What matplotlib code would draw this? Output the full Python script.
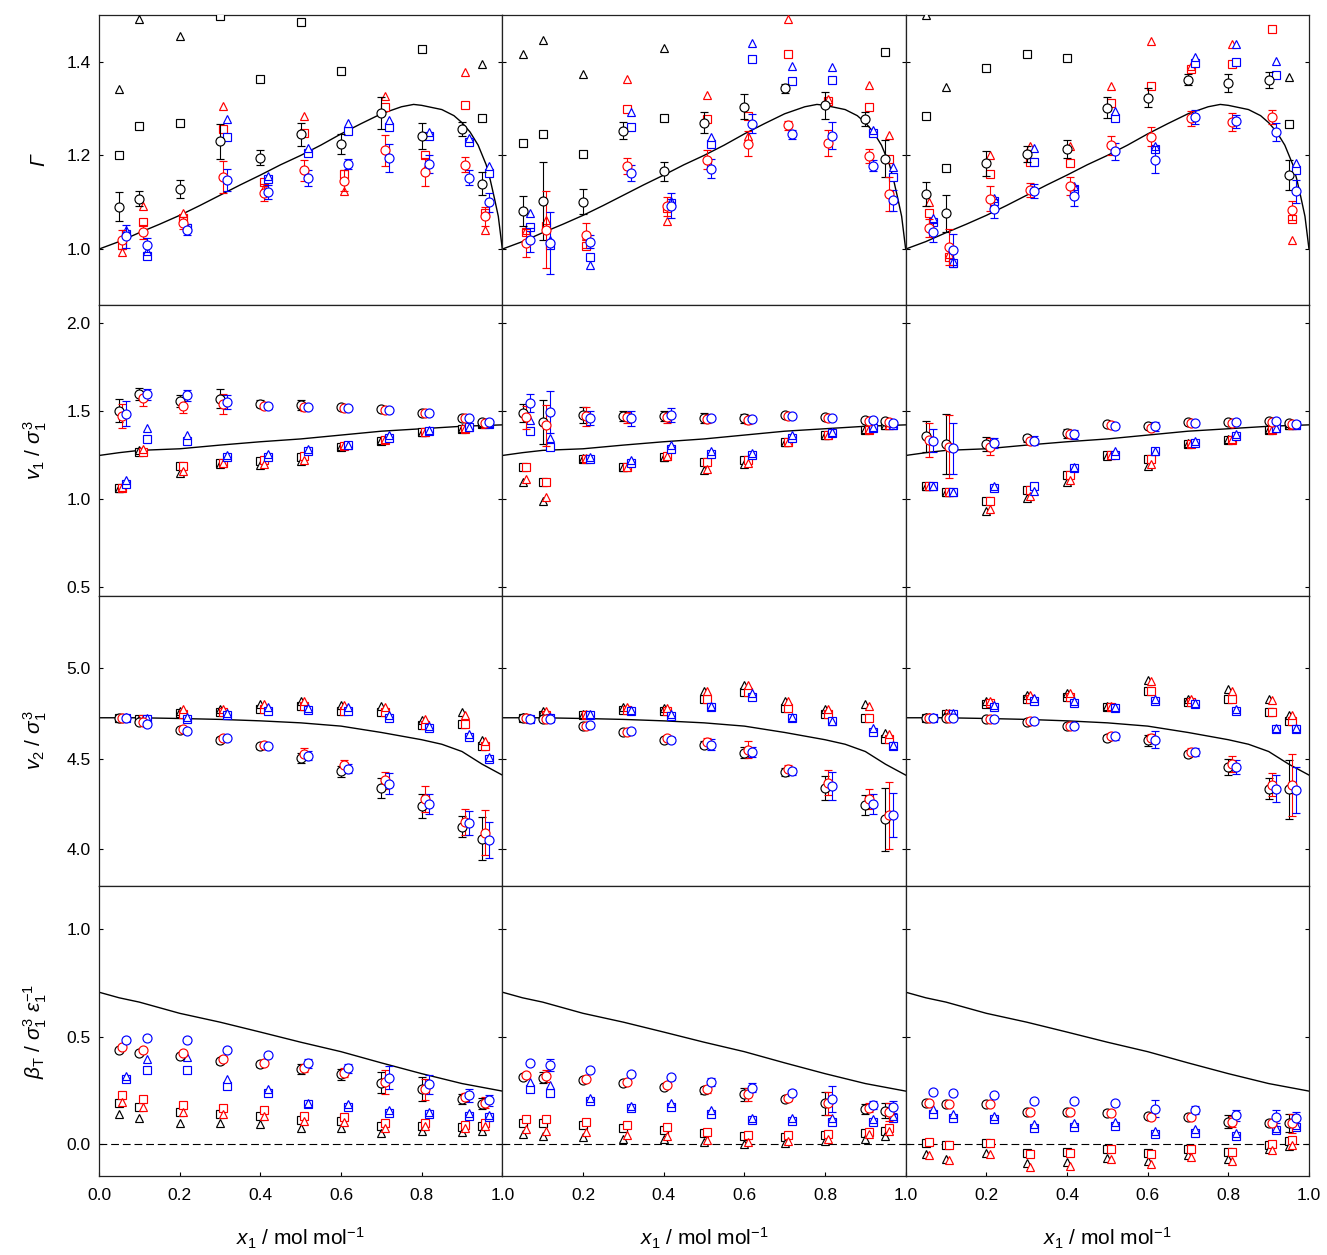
import numpy as np
import matplotlib
matplotlib.use("Agg")
import matplotlib.pyplot as plt

N = np.nan

# mole fractions of the simulated state points
X = [0.05, 0.1, 0.2, 0.3, 0.4, 0.5, 0.6, 0.7, 0.8, 0.9, 0.95]

# ---- Gamma, column 1 ----
G1_K_O = [1.090, 1.108, 1.128, 1.230, 1.195, 1.245, 1.225, 1.290, 1.242, 1.257, 1.140]
G1_K_E = [0.031, 0.015, 0.019, 0.037, 0.016, 0.025, 0.021, 0.034, 0.028, 0.015, 0.024]
G1_K_S = [1.201, 1.262, 1.270, 1.498, 1.364, 1.485, 1.381, N, 1.427, N, 1.279]
G1_K_T = [1.342, 1.491, 1.455, N, N, N, N, N, N, N, 1.396]
G1_R_O = [1.020, 1.036, 1.056, 1.154, 1.120, 1.168, 1.146, 1.211, 1.165, 1.180, 1.070]
G1_R_E = [0.020, 0.015, 0.013, 0.035, 0.018, 0.023, 0.022, 0.033, 0.030, 0.016, 0.020]
G1_R_S = [1.009, 1.057, 1.066, 1.257, 1.143, 1.247, 1.161, 1.303, 1.200, 1.308, 1.077]
G1_R_T = [0.993, 1.093, 1.076, 1.305, 1.130, 1.284, 1.123, 1.327, 1.170, 1.378, 1.040]
G1_B_O = [1.027, 1.009, 1.041, 1.148, 1.121, 1.152, 1.182, 1.195, 1.182, 1.152, 1.100]
G1_B_E = [0.025, 0.015, 0.012, 0.023, 0.015, 0.017, 0.011, 0.030, 0.020, 0.016, 0.020]
G1_B_S = [1.033, 0.986, 1.045, 1.239, 1.150, 1.205, 1.252, 1.260, 1.241, 1.228, 1.163]
G1_B_T = [1.040, 0.995, 1.048, 1.277, 1.157, 1.216, 1.270, 1.275, 1.250, 1.237, 1.177]

# ---- Gamma, column 2 ----
G2_K_O = [1.081, 1.103, 1.101, 1.253, 1.166, 1.270, 1.304, 1.343, 1.307, 1.277, 1.193]
G2_K_E = [0.032, 0.084, 0.027, 0.018, 0.021, 0.022, 0.027, 0.010, 0.029, 0.015, 0.039]
G2_K_S = [1.227, 1.245, 1.204, N, 1.281, N, N, N, N, N, 1.421]
G2_K_T = [1.416, 1.446, 1.373, N, 1.430, N, N, N, N, N, N]
G2_R_O = [1.013, 1.041, 1.029, 1.177, 1.091, 1.191, 1.225, 1.264, 1.227, 1.198, 1.118]
G2_R_E = [0.030, 0.082, 0.026, 0.017, 0.020, 0.021, 0.027, 0.009, 0.028, 0.015, 0.037]
G2_R_S = [1.036, 1.050, 1.007, 1.300, 1.087, 1.277, 1.284, 1.417, 1.317, 1.304, 1.193]
G2_R_T = [1.040, 1.063, 1.027, 1.364, 1.059, 1.329, 1.241, 1.492, 1.320, 1.350, 1.243]
G2_B_O = [1.019, 1.013, 1.016, 1.163, 1.093, 1.172, 1.268, 1.245, 1.242, 1.178, 1.104]
G2_B_E = [0.025, 0.066, 0.013, 0.017, 0.027, 0.021, 0.020, 0.010, 0.029, 0.012, 0.023]
G2_B_S = [1.048, 1.009, 0.983, 1.260, 1.098, 1.225, 1.406, 1.360, 1.361, 1.248, 1.153]
G2_B_T = [1.078, 1.020, 0.966, 1.293, 1.102, 1.239, 1.441, 1.392, 1.389, 1.254, 1.175]

# ---- Gamma, column 3 ----
G3_K_O = [1.118, 1.076, 1.183, 1.203, 1.214, 1.302, 1.323, 1.362, 1.355, 1.362, 1.158]
G3_K_E = [0.025, 0.039, 0.027, 0.017, 0.020, 0.022, 0.020, 0.012, 0.019, 0.017, 0.032]
G3_K_S = [1.284, 1.173, 1.386, 1.416, 1.408, N, N, N, N, N, 1.267]
G3_K_T = [1.499, 1.347, N, N, N, N, N, N, N, N, 1.368]
G3_R_O = [1.045, 1.004, 1.108, 1.127, 1.135, 1.222, 1.240, 1.279, 1.272, 1.282, 1.083]
G3_R_E = [0.020, 0.039, 0.027, 0.015, 0.020, 0.020, 0.020, 0.016, 0.019, 0.015, 0.020]
G3_R_S = [1.078, 0.984, 1.161, 1.185, 1.183, 1.313, 1.349, 1.385, 1.396, 1.471, 1.065]
G3_R_T = [1.101, 0.990, 1.201, 1.220, 1.220, 1.349, 1.444, 1.390, 1.437, N, 1.020]
G3_B_O = [1.036, 0.997, 1.086, 1.125, 1.113, 1.209, 1.191, 1.282, 1.273, 1.250, 1.123]
G3_B_E = [0.020, 0.036, 0.020, 0.015, 0.021, 0.018, 0.029, 0.015, 0.014, 0.020, 0.024]
G3_B_S = [1.058, 0.970, 1.102, 1.185, 1.128, 1.280, 1.214, 1.398, 1.399, 1.372, 1.168]
G3_B_T = [1.066, 0.975, 1.110, 1.216, 1.135, 1.294, 1.220, 1.410, 1.439, 1.401, 1.183]

# ---- v1, column 1 ----
V1_1_K_O = [1.500, 1.595, 1.557, 1.568, 1.540, 1.534, 1.521, 1.511, 1.490, 1.458, 1.436]
V1_1_K_E = [0.066, 0.036, 0.033, 0.054, 0.020, 0.028, 0.012, 0.010, 0.010, 0.008, 0.010]
V1_1_K_S = [1.061, 1.263, 1.188, 1.203, 1.212, 1.240, 1.297, 1.330, 1.377, 1.396, 1.424]
V1_1_K_T = [1.061, 1.275, 1.146, 1.200, 1.193, 1.216, 1.300, 1.335, 1.380, 1.400, 1.428]
V1_1_R_O = [1.468, 1.572, 1.525, 1.538, 1.528, 1.519, 1.515, 1.506, 1.487, 1.458, 1.430]
V1_1_R_E = [0.068, 0.043, 0.040, 0.057, 0.020, 0.020, 0.010, 0.010, 0.010, 0.010, 0.010]
V1_1_R_S = [1.061, 1.263, 1.188, 1.206, 1.218, 1.244, 1.301, 1.335, 1.377, 1.396, 1.424]
V1_1_R_T = [1.065, 1.282, 1.155, 1.203, 1.197, 1.222, 1.303, 1.338, 1.380, 1.400, 1.428]
V1_1_B_O = [1.483, 1.595, 1.587, 1.549, 1.525, 1.519, 1.515, 1.502, 1.487, 1.458, 1.436]
V1_1_B_E = [0.070, 0.031, 0.030, 0.038, 0.012, 0.010, 0.008, 0.008, 0.008, 0.008, 0.008]
V1_1_B_S = [1.085, 1.339, 1.326, 1.235, 1.240, 1.269, 1.303, 1.348, 1.383, 1.407, 1.424]
V1_1_B_T = [1.108, 1.405, 1.364, 1.250, 1.256, 1.284, 1.305, 1.360, 1.390, 1.410, 1.430]

# ---- v1, column 2 ----
V1_2_K_O = [1.487, 1.436, 1.477, 1.468, 1.468, 1.458, 1.458, 1.477, 1.464, 1.445, 1.440]
V1_2_K_E = [0.050, 0.126, 0.047, 0.028, 0.028, 0.028, 0.025, 0.010, 0.010, 0.010, 0.010]
V1_2_K_S = [1.178, 1.093, 1.225, 1.180, 1.237, 1.208, 1.222, 1.322, 1.360, 1.392, 1.417]
V1_2_K_T = [1.098, 0.985, 1.230, 1.180, 1.240, 1.165, 1.200, 1.325, 1.362, 1.395, 1.420]
V1_2_R_O = [1.462, 1.417, 1.468, 1.462, 1.462, 1.455, 1.449, 1.472, 1.458, 1.443, 1.436]
V1_2_R_E = [0.066, 0.116, 0.055, 0.030, 0.030, 0.025, 0.025, 0.010, 0.010, 0.010, 0.010]
V1_2_R_S = [1.180, 1.095, 1.225, 1.180, 1.241, 1.208, 1.222, 1.322, 1.360, 1.392, 1.417]
V1_2_R_T = [1.114, 1.008, 1.232, 1.182, 1.243, 1.170, 1.206, 1.325, 1.362, 1.395, 1.420]
V1_2_B_O = [1.544, 1.492, 1.458, 1.458, 1.477, 1.458, 1.455, 1.473, 1.458, 1.445, 1.430]
V1_2_B_E = [0.051, 0.118, 0.040, 0.042, 0.040, 0.010, 0.010, 0.008, 0.008, 0.008, 0.008]
V1_2_B_S = [1.383, 1.297, 1.227, 1.203, 1.282, 1.254, 1.250, 1.348, 1.373, 1.405, 1.417]
V1_2_B_T = [1.449, 1.345, 1.240, 1.222, 1.307, 1.270, 1.260, 1.364, 1.380, 1.410, 1.420]

# ---- v1, column 3 ----
V1_3_K_O = [1.354, 1.311, 1.311, 1.345, 1.373, 1.424, 1.411, 1.436, 1.436, 1.440, 1.430]
V1_3_K_E = [0.087, 0.172, 0.038, 0.020, 0.026, 0.012, 0.010, 0.008, 0.008, 0.008, 0.008]
V1_3_K_S = [1.070, 1.038, 0.990, 1.051, 1.133, 1.250, 1.227, 1.311, 1.335, 1.392, 1.417]
V1_3_K_T = [1.070, 1.040, 0.932, 1.004, 1.098, 1.245, 1.189, 1.315, 1.340, 1.395, 1.420]
V1_3_R_O = [1.335, 1.297, 1.297, 1.330, 1.367, 1.417, 1.405, 1.430, 1.430, 1.436, 1.424]
V1_3_R_E = [0.097, 0.180, 0.050, 0.020, 0.020, 0.010, 0.010, 0.008, 0.008, 0.008, 0.008]
V1_3_R_S = [1.070, 1.038, 0.990, 1.051, 1.133, 1.250, 1.227, 1.311, 1.335, 1.392, 1.417]
V1_3_R_T = [1.072, 1.040, 0.943, 1.013, 1.108, 1.248, 1.197, 1.315, 1.340, 1.395, 1.420]
V1_3_B_O = [1.330, 1.288, 1.316, 1.330, 1.367, 1.411, 1.411, 1.430, 1.436, 1.440, 1.424]
V1_3_B_E = [0.066, 0.145, 0.028, 0.026, 0.025, 0.010, 0.028, 0.008, 0.008, 0.008, 0.008]
V1_3_B_S = [1.070, 1.038, 1.061, 1.070, 1.174, 1.250, 1.269, 1.316, 1.358, 1.402, 1.417]
V1_3_B_T = [1.072, 1.040, 1.070, 1.045, 1.180, 1.270, 1.272, 1.330, 1.370, 1.405, 1.420]

# ---- v2, column 1 ----
V2_1_K_O = [4.726, 4.700, 4.660, 4.606, 4.568, 4.504, 4.430, 4.339, 4.238, 4.124, 4.060]
V2_1_K_E = [0.010, 0.010, 0.010, 0.012, 0.012, 0.030, 0.032, 0.057, 0.066, 0.058, 0.117]
V2_1_K_S = [4.726, 4.717, 4.753, 4.757, 4.775, 4.790, 4.766, 4.757, 4.687, 4.690, 4.568]
V2_1_K_T = [4.726, 4.720, 4.766, 4.775, 4.803, 4.821, 4.794, 4.790, 4.711, 4.757, 4.606]
V2_1_R_O = [4.726, 4.700, 4.665, 4.614, 4.577, 4.528, 4.463, 4.381, 4.280, 4.151, 4.093]
V2_1_R_E = [0.010, 0.012, 0.010, 0.012, 0.012, 0.030, 0.028, 0.048, 0.072, 0.072, 0.124]
V2_1_R_S = [4.726, 4.717, 4.748, 4.757, 4.775, 4.790, 4.766, 4.757, 4.687, 4.690, 4.568]
V2_1_R_T = [4.726, 4.720, 4.772, 4.775, 4.803, 4.821, 4.794, 4.784, 4.717, 4.742, 4.597]
V2_1_B_O = [4.726, 4.693, 4.652, 4.614, 4.573, 4.518, 4.445, 4.362, 4.252, 4.146, 4.054]
V2_1_B_E = [0.010, 0.012, 0.010, 0.010, 0.010, 0.025, 0.025, 0.058, 0.055, 0.064, 0.100]
V2_1_B_S = [4.726, 4.720, 4.717, 4.744, 4.762, 4.770, 4.766, 4.726, 4.671, 4.619, 4.500]
V2_1_B_T = [4.728, 4.722, 4.730, 4.750, 4.784, 4.780, 4.788, 4.744, 4.680, 4.638, 4.510]

# ---- v2, column 2 ----
V2_2_K_O = [4.726, 4.720, 4.680, 4.647, 4.606, 4.577, 4.533, 4.427, 4.339, 4.247, 4.166]
V2_2_K_E = [0.010, 0.010, 0.010, 0.010, 0.010, 0.020, 0.030, 0.020, 0.066, 0.055, 0.174]
V2_2_K_S = [4.726, 4.742, 4.742, 4.770, 4.762, 4.830, 4.867, 4.781, 4.748, 4.726, 4.610]
V2_2_K_T = [4.730, 4.766, 4.745, 4.784, 4.779, 4.872, 4.907, 4.821, 4.772, 4.803, 4.641]
V2_2_R_O = [4.726, 4.720, 4.683, 4.650, 4.614, 4.592, 4.551, 4.445, 4.368, 4.276, 4.188]
V2_2_R_E = [0.010, 0.015, 0.010, 0.010, 0.012, 0.020, 0.045, 0.020, 0.070, 0.055, 0.185]
V2_2_R_S = [4.726, 4.742, 4.742, 4.770, 4.762, 4.830, 4.867, 4.781, 4.748, 4.726, 4.610]
V2_2_R_T = [4.730, 4.766, 4.745, 4.784, 4.779, 4.872, 4.907, 4.821, 4.772, 4.790, 4.638]
V2_2_B_O = [4.717, 4.717, 4.687, 4.652, 4.606, 4.577, 4.537, 4.430, 4.350, 4.252, 4.188]
V2_2_B_E = [0.010, 0.012, 0.010, 0.010, 0.015, 0.030, 0.030, 0.020, 0.078, 0.055, 0.121]
V2_2_B_S = [4.720, 4.726, 4.742, 4.762, 4.735, 4.784, 4.840, 4.726, 4.706, 4.650, 4.568]
V2_2_B_T = [4.722, 4.730, 4.745, 4.768, 4.745, 4.790, 4.861, 4.730, 4.710, 4.669, 4.575]

# ---- v2, column 3 ----
V2_3_K_O = [4.726, 4.726, 4.720, 4.702, 4.680, 4.614, 4.601, 4.524, 4.454, 4.335, 4.331]
V2_3_K_E = [0.010, 0.010, 0.010, 0.010, 0.010, 0.015, 0.031, 0.015, 0.044, 0.057, 0.163]
V2_3_K_S = [4.726, 4.748, 4.803, 4.830, 4.839, 4.784, 4.876, 4.812, 4.827, 4.757, 4.706]
V2_3_K_T = [4.728, 4.752, 4.821, 4.849, 4.861, 4.790, 4.935, 4.827, 4.882, 4.830, 4.739]
V2_3_R_O = [4.726, 4.726, 4.720, 4.706, 4.683, 4.624, 4.614, 4.537, 4.472, 4.357, 4.357]
V2_3_R_E = [0.010, 0.010, 0.010, 0.010, 0.010, 0.020, 0.025, 0.020, 0.043, 0.064, 0.172]
V2_3_R_S = [4.726, 4.748, 4.808, 4.830, 4.839, 4.784, 4.876, 4.812, 4.827, 4.757, 4.706]
V2_3_R_T = [4.728, 4.752, 4.821, 4.852, 4.861, 4.790, 4.926, 4.827, 4.876, 4.825, 4.739]
V2_3_B_O = [4.726, 4.726, 4.720, 4.706, 4.680, 4.624, 4.605, 4.537, 4.454, 4.335, 4.326]
V2_3_B_E = [0.010, 0.010, 0.010, 0.010, 0.010, 0.020, 0.046, 0.020, 0.037, 0.073, 0.126]
V2_3_B_S = [4.726, 4.748, 4.784, 4.821, 4.808, 4.781, 4.816, 4.803, 4.762, 4.665, 4.665]
V2_3_B_T = [4.728, 4.752, 4.797, 4.834, 4.821, 4.785, 4.830, 4.808, 4.775, 4.670, 4.670]

# ---- beta_T, column 1 ----
BT1_K_O = [0.437, 0.425, 0.410, 0.386, 0.371, 0.351, 0.325, 0.286, 0.258, 0.209, 0.189]
BT1_K_E = [0.010, 0.010, 0.010, 0.012, 0.010, 0.023, 0.025, 0.050, 0.056, 0.023, 0.027]
BT1_K_S = [0.193, 0.175, 0.151, 0.142, 0.131, 0.113, 0.108, 0.085, 0.085, 0.082, 0.085]
BT1_K_T = [0.139, 0.124, 0.100, 0.100, 0.096, 0.074, 0.077, 0.054, 0.062, 0.057, 0.062]
BT1_R_O = [0.453, 0.437, 0.422, 0.397, 0.379, 0.355, 0.332, 0.289, 0.255, 0.219, 0.193]
BT1_R_E = [0.010, 0.010, 0.010, 0.012, 0.010, 0.020, 0.020, 0.054, 0.050, 0.020, 0.025]
BT1_R_S = [0.229, 0.209, 0.182, 0.170, 0.158, 0.131, 0.128, 0.097, 0.097, 0.088, 0.097]
BT1_R_T = [0.196, 0.175, 0.150, 0.142, 0.131, 0.108, 0.105, 0.077, 0.085, 0.077, 0.085]
BT1_B_O = [0.484, 0.495, 0.484, 0.437, 0.413, 0.376, 0.352, 0.309, 0.278, 0.227, 0.204]
BT1_B_E = [0.008, 0.008, 0.008, 0.008, 0.010, 0.020, 0.020, 0.054, 0.046, 0.032, 0.027]
BT1_B_S = [0.304, 0.345, 0.345, 0.270, 0.236, 0.185, 0.175, 0.147, 0.142, 0.131, 0.128]
BT1_B_T = [0.317, 0.394, 0.406, 0.301, 0.255, 0.193, 0.185, 0.159, 0.151, 0.144, 0.134]

# ---- beta_T, column 2 ----
BT2_K_O = [0.312, 0.309, 0.298, 0.283, 0.267, 0.250, 0.232, 0.209, 0.190, 0.162, 0.155]
BT2_K_E = [0.008, 0.025, 0.008, 0.010, 0.010, 0.015, 0.030, 0.010, 0.052, 0.023, 0.035]
BT2_K_S = [0.100, 0.100, 0.088, 0.077, 0.065, 0.051, 0.039, 0.036, 0.042, 0.051, 0.062]
BT2_K_T = [0.046, 0.039, 0.036, 0.023, 0.023, 0.011, 0.000, 0.005, 0.015, 0.023, 0.039]
BT2_R_O = [0.321, 0.317, 0.304, 0.291, 0.274, 0.255, 0.232, 0.213, 0.190, 0.170, 0.150]
BT2_R_E = [0.008, 0.028, 0.008, 0.010, 0.010, 0.015, 0.030, 0.010, 0.054, 0.020, 0.040]
BT2_R_S = [0.119, 0.116, 0.104, 0.088, 0.082, 0.057, 0.042, 0.042, 0.046, 0.057, 0.077]
BT2_R_T = [0.070, 0.062, 0.057, 0.042, 0.039, 0.020, 0.011, 0.015, 0.023, 0.046, 0.062]
BT2_B_O = [0.379, 0.368, 0.345, 0.325, 0.312, 0.289, 0.263, 0.240, 0.212, 0.182, 0.173]
BT2_B_E = [0.008, 0.027, 0.008, 0.010, 0.012, 0.020, 0.022, 0.010, 0.060, 0.020, 0.027]
BT2_B_S = [0.255, 0.240, 0.201, 0.170, 0.175, 0.142, 0.111, 0.108, 0.104, 0.104, 0.121]
BT2_B_T = [0.289, 0.274, 0.216, 0.178, 0.193, 0.159, 0.124, 0.124, 0.121, 0.116, 0.131]

# ---- beta_T, column 3 ----
BT3_K_O = [0.190, 0.185, 0.185, 0.151, 0.151, 0.147, 0.131, 0.128, 0.105, 0.100, 0.097]
BT3_K_E = [0.008, 0.008, 0.008, 0.008, 0.008, 0.010, 0.010, 0.010, 0.030, 0.015, 0.042]
BT3_K_S = [0.008, -0.005, 0.005, -0.039, -0.036, -0.023, -0.039, -0.023, -0.034, -0.005, 0.015]
BT3_K_T = [-0.046, -0.066, -0.042, -0.088, -0.082, -0.062, -0.077, -0.051, -0.066, -0.023, -0.008]
BT3_R_O = [0.190, 0.185, 0.189, 0.151, 0.151, 0.147, 0.128, 0.128, 0.105, 0.100, 0.097]
BT3_R_E = [0.008, 0.008, 0.008, 0.008, 0.008, 0.010, 0.010, 0.010, 0.025, 0.015, 0.045]
BT3_R_S = [0.011, -0.005, 0.008, -0.043, -0.039, -0.023, -0.043, -0.023, -0.036, 0.003, 0.020]
BT3_R_T = [-0.051, -0.073, -0.046, -0.104, -0.100, -0.070, -0.090, -0.057, -0.077, -0.028, -0.005]
BT3_B_O = [0.244, 0.236, 0.229, 0.201, 0.201, 0.193, 0.165, 0.159, 0.134, 0.128, 0.124]
BT3_B_E = [0.006, 0.006, 0.006, 0.006, 0.006, 0.010, 0.040, 0.020, 0.025, 0.030, 0.026]
BT3_B_S = [0.142, 0.121, 0.116, 0.077, 0.082, 0.085, 0.046, 0.054, 0.039, 0.065, 0.080]
BT3_B_T = [0.165, 0.139, 0.131, 0.093, 0.100, 0.104, 0.062, 0.070, 0.054, 0.077, 0.088]

# ---- reference model curves (same in every column) ----
GAM_CURVE_X = [0.0, 0.05, 0.1, 0.15, 0.2, 0.25, 0.3, 0.35, 0.4, 0.45, 0.5, 0.55, 0.6,
               0.65, 0.7, 0.75, 0.78, 0.8, 0.85, 0.88, 0.9, 0.92, 0.94, 0.96, 0.97,
               0.98, 0.99, 1.0]
GAM_CURVE_Y = [1.000, 1.016, 1.035, 1.053, 1.072, 1.093, 1.115, 1.137, 1.158, 1.180,
               1.200, 1.222, 1.246, 1.268, 1.289, 1.304, 1.309, 1.307, 1.298, 1.285,
               1.270, 1.250, 1.222, 1.180, 1.148, 1.110, 1.070, 1.000]
V1_CURVE_X = [0.0, 0.05, 0.1, 0.2, 0.3, 0.4, 0.5, 0.6, 0.7, 0.8, 0.9, 1.0]
V1_CURVE_Y = [1.246, 1.262, 1.275, 1.284, 1.305, 1.324, 1.340, 1.362, 1.384, 1.398, 1.412, 1.420]
V2_CURVE_X = [0.0, 0.1, 0.2, 0.3, 0.4, 0.5, 0.6, 0.7, 0.75, 0.8, 0.85, 0.9, 0.95, 1.0]
V2_CURVE_Y = [4.726, 4.726, 4.722, 4.717, 4.709, 4.698, 4.680, 4.645, 4.625, 4.605,
              4.580, 4.540, 4.470, 4.410]
BT_CURVE_X = [0.0, 0.05, 0.1, 0.2, 0.3, 0.4, 0.5, 0.6, 0.7, 0.8, 0.9, 1.0]
BT_CURVE_Y = [0.706, 0.680, 0.660, 0.608, 0.567, 0.521, 0.474, 0.430, 0.378, 0.328, 0.282, 0.247]

ROW_LABELS = [
    "Γ",
    r"$v_1$ / $\sigma_1^3$",
    r"$v_2$ / $\sigma_1^3$",
    r"$\beta_\mathrm{T}$ / $\sigma_1^3$ $\varepsilon_1^{-1}$",
]
X_LABEL = r"$x_1$ / mol mol$^{-1}$"
YLIMS = [(0.88, 1.50), (0.45, 2.10), (3.80, 5.40), (-0.147, 1.20)]
YTICKS = [[1.0, 1.2, 1.4], [0.5, 1.0, 1.5, 2.0], [4.0, 4.5, 5.0], [0.0, 0.5, 1.0]]
XTICKS = [0.0, 0.2, 0.4, 0.6, 0.8, 1.0]

COLORS = {"k": "#000000", "r": "#ff0000", "b": "#0000ff"}
SHIFT = {"k": 0.0, "r": 0.008, "b": 0.018}

PANELS = [
    [
        {"k": (G1_K_O, G1_K_E, G1_K_S, G1_K_T), "r": (G1_R_O, G1_R_E, G1_R_S, G1_R_T), "b": (G1_B_O, G1_B_E, G1_B_S, G1_B_T)},
        {"k": (G2_K_O, G2_K_E, G2_K_S, G2_K_T), "r": (G2_R_O, G2_R_E, G2_R_S, G2_R_T), "b": (G2_B_O, G2_B_E, G2_B_S, G2_B_T)},
        {"k": (G3_K_O, G3_K_E, G3_K_S, G3_K_T), "r": (G3_R_O, G3_R_E, G3_R_S, G3_R_T), "b": (G3_B_O, G3_B_E, G3_B_S, G3_B_T)},
    ],
    [
        {"k": (V1_1_K_O, V1_1_K_E, V1_1_K_S, V1_1_K_T), "r": (V1_1_R_O, V1_1_R_E, V1_1_R_S, V1_1_R_T), "b": (V1_1_B_O, V1_1_B_E, V1_1_B_S, V1_1_B_T)},
        {"k": (V1_2_K_O, V1_2_K_E, V1_2_K_S, V1_2_K_T), "r": (V1_2_R_O, V1_2_R_E, V1_2_R_S, V1_2_R_T), "b": (V1_2_B_O, V1_2_B_E, V1_2_B_S, V1_2_B_T)},
        {"k": (V1_3_K_O, V1_3_K_E, V1_3_K_S, V1_3_K_T), "r": (V1_3_R_O, V1_3_R_E, V1_3_R_S, V1_3_R_T), "b": (V1_3_B_O, V1_3_B_E, V1_3_B_S, V1_3_B_T)},
    ],
    [
        {"k": (V2_1_K_O, V2_1_K_E, V2_1_K_S, V2_1_K_T), "r": (V2_1_R_O, V2_1_R_E, V2_1_R_S, V2_1_R_T), "b": (V2_1_B_O, V2_1_B_E, V2_1_B_S, V2_1_B_T)},
        {"k": (V2_2_K_O, V2_2_K_E, V2_2_K_S, V2_2_K_T), "r": (V2_2_R_O, V2_2_R_E, V2_2_R_S, V2_2_R_T), "b": (V2_2_B_O, V2_2_B_E, V2_2_B_S, V2_2_B_T)},
        {"k": (V2_3_K_O, V2_3_K_E, V2_3_K_S, V2_3_K_T), "r": (V2_3_R_O, V2_3_R_E, V2_3_R_S, V2_3_R_T), "b": (V2_3_B_O, V2_3_B_E, V2_3_B_S, V2_3_B_T)},
    ],
    [
        {"k": (BT1_K_O, BT1_K_E, BT1_K_S, BT1_K_T), "r": (BT1_R_O, BT1_R_E, BT1_R_S, BT1_R_T), "b": (BT1_B_O, BT1_B_E, BT1_B_S, BT1_B_T)},
        {"k": (BT2_K_O, BT2_K_E, BT2_K_S, BT2_K_T), "r": (BT2_R_O, BT2_R_E, BT2_R_S, BT2_R_T), "b": (BT2_B_O, BT2_B_E, BT2_B_S, BT2_B_T)},
        {"k": (BT3_K_O, BT3_K_E, BT3_K_S, BT3_K_T), "r": (BT3_R_O, BT3_R_E, BT3_R_S, BT3_R_T), "b": (BT3_B_O, BT3_B_E, BT3_B_S, BT3_B_T)},
    ],
]
CURVES = [
    (GAM_CURVE_X, GAM_CURVE_Y),
    (V1_CURVE_X, V1_CURVE_Y),
    (V2_CURVE_X, V2_CURVE_Y),
    (BT_CURVE_X, BT_CURVE_Y),
]

plt.rcParams["font.family"] = ["Liberation Sans", "DejaVu Sans"]
plt.rcParams["mathtext.fontset"] = "custom"
plt.rcParams["mathtext.rm"] = "Liberation Sans"
plt.rcParams["mathtext.it"] = "Liberation Sans:italic"
plt.rcParams["mathtext.bf"] = "Liberation Sans:bold"

FIG_W, FIG_H = 1327, 1255
LEFT, RIGHT, TOP, BOTTOM = 99, 1309, 15, 1176


def style_axes(ax, row, col):
    for spine in ax.spines.values():
        spine.set_linewidth(0.9)
        spine.set_color("#222222")
    ax.set_xlim(0, 1)
    ax.set_ylim(*YLIMS[row])
    ax.set_yticks(YTICKS[row])
    ax.set_xticks(XTICKS)
    ax.tick_params(direction="in", length=3, width=0.8, labelsize=12.5,
                   left=True, right=True, top=False, bottom=(row == 3))
    ax.tick_params(axis="x", pad=9)
    ax.tick_params(axis="y", pad=6)
    if col == 0:
        ax.set_yticklabels([f"{v:.1f}" for v in YTICKS[row]])
        ax.set_ylabel(ROW_LABELS[row], fontsize=15,
                      fontstyle="italic" if row == 0 else "normal")
        ax.yaxis.set_label_coords(-0.125, 0.5)
    else:
        ax.set_yticklabels([])
    if row == 3:
        labels = [f"{v:.1f}" for v in XTICKS]
        if col > 0:
            labels[0] = ""
        ax.set_xticklabels(labels)
        ax.set_xlabel(X_LABEL, fontsize=15, labelpad=16)
    else:
        ax.set_xticklabels([])


def draw_color(ax, data, key):
    circ, err, sq, tri = data
    color = COLORS[key]
    xs = np.array(X) + SHIFT[key]
    common = dict(ls="none", mfc="white", mec=color, mew=0.85)
    ax.plot(xs, sq, marker="s", ms=5.5, zorder=3, **common)
    ax.plot(xs, tri, marker="^", ms=6.2, zorder=3, **common)
    ax.errorbar(xs, circ, yerr=err, fmt="o", ms=6.5, mfc="white", mec=color, mew=0.85,
                ecolor=color, elinewidth=0.8, capsize=3, capthick=0.8, zorder=4)


def main():
    fig = plt.figure(figsize=(FIG_W / 100, FIG_H / 100), dpi=100)
    col_w = (RIGHT - LEFT) / 3
    row_h = (BOTTOM - TOP) / 4
    for row in range(4):
        for col in range(3):
            x0 = (LEFT + col * col_w) / FIG_W
            y0 = 1 - (TOP + (row + 1) * row_h) / FIG_H
            ax = fig.add_axes([x0, y0, col_w / FIG_W, row_h / FIG_H])
            cx, cy = CURVES[row]
            ax.plot(cx, cy, color="black", lw=1.0, zorder=2)
            if row == 3:
                ax.axhline(0.0, color="black", lw=0.8, ls=(0, (7, 3.5)), zorder=1)
            panel = PANELS[row][col]
            for key in ("k", "r", "b"):
                draw_color(ax, panel[key], key)
            style_axes(ax, row, col)
    fig.savefig("out.png", dpi=100)
    plt.close(fig)


if __name__ == "__main__":
    main()
